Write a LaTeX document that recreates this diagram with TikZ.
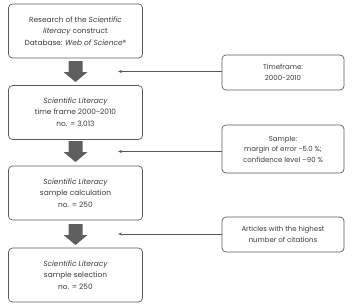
\documentclass[tikz,border=0pt]{standalone}
\usepackage{fontspec}
\setmainfont{Poppins}
\usetikzlibrary{arrows.meta}
\definecolor{boxline}{HTML}{5A5A5A}
\definecolor{arrowgray}{HTML}{5F5F5F}
\definecolor{txt}{HTML}{3A3A3A}
\begin{document}
\begin{tikzpicture}[x=1pt,y=-1pt,
  mainbox/.style={draw=boxline,line width=0.7pt,rounded corners=4pt,minimum width=134pt,minimum height=54pt,align=center,font=\fontsize{7.4}{11.5}\selectfont,text=txt,inner sep=0pt},
  sidebox/.style={draw=boxline,line width=0.7pt,rounded corners=4pt,minimum width=122pt,align=center,font=\fontsize{7}{10.5}\selectfont,text=txt,inner sep=0pt},
  bigarrow/.style={fill=arrowgray,draw=none},
  sideline/.style={draw=boxline,line width=0.6pt,-{Stealth[length=4pt,width=3pt]}}]
\useasboundingbox (0,0) rectangle (352,306);
\node[mainbox] (b1) at (75.5,31) {Research of the \textit{Scientific}\\\textit{literacy} construct\\Database: \textit{Web of Science}®};
\node[mainbox] (b2) at (75.5,112.5) {\textit{Scientific Literacy}\\time frame 2000-2010\\no. = 3,013};
\node[mainbox] (b3) at (75.5,193) {\textit{Scientific Literacy}\\sample calculation\\no. = 250};
\node[mainbox] (b4) at (75.5,275) {\textit{Scientific Literacy}\\sample selection\\no. = 250};
\foreach \t in {61,141,224}{
  \fill[bigarrow] (75.5,\t) ++(-7,0) -- ++(14,0) -- ++(0,11) -- ++(5,0) -- ++(-12,10) -- ++(-12,-10) -- ++(5,0) -- cycle;
}
\node[sidebox,minimum height=35pt] (s1) at (283,72.5) {Timeframe:\\2000-2010};
\node[sidebox,minimum height=48pt] (s2) at (283,149) {Sample:\\margin of error -5.0 \%;\\confidence level –90 \%};
\node[sidebox,minimum height=35pt] (s3) at (283,234.5) {Articles with the highest\\number of citations};
\coordinate (e1) at (118,71.5);
\coordinate (e2) at (118,151.5);
\coordinate (e3) at (118,234);
\draw[sideline] (s1.west |- e1) -- (e1);
\draw[sideline] (s2.west |- e2) -- (e2);
\draw[sideline] (s3.west |- e3) -- (e3);
\end{tikzpicture}
\end{document}
